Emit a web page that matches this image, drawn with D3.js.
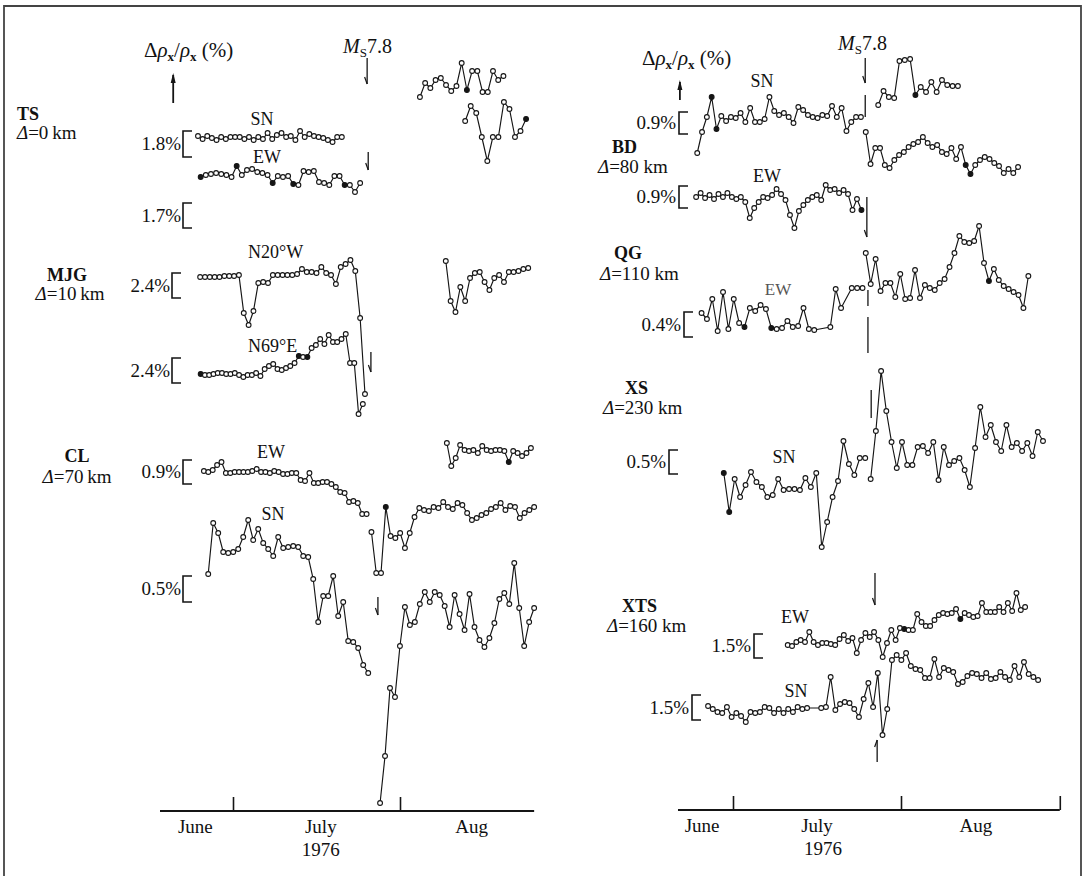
<!DOCTYPE html>
<html><head><meta charset="utf-8">
<script src="https://cdn.jsdelivr.net/npm/d3@7"></script>
<style>
body{margin:0;background:#fff;}
svg{display:block;}
text{font-family:"Liberation Serif","Times New Roman",serif;fill:#111;}
</style></head><body>
<svg id="c" width="1085" height="876"></svg>
<script>
// ---------- DATA (days: June 1 = 1, July 1 = 31, Aug 1 = 62; values in chart units) ----------
const monthLabels = ["June", "July", "Aug"];
const yearLabel = "1976";
const monthTickDays = [31, 62];
const monthLabelDaysL = [24, 47.3, 75.3];
const monthLabelDaysR = [25.3, 46.5, 75.8];
const yearDayL = 47.3, yearDayR = 47.6;

// Tangshan (TS)
const tsSNBefore = [67.5,67.2,67.5,67.3,67.1,67.4,67.2,67.4,67.4,67.4,67.2,67.4,67.1,67.4,67.2,67.8,67.2,67.6,67.8,67.4,67.5,67.1,68.0,67.4,67.7,67.5,67.4,67.3,67.1,66.9,67.4,67.4];
const tsEWBefore = [63.4,63.6,63.7,63.8,63.7,63.6,63.4,64.5,63.6,64.1,64.2,63.9,63.8,63.6,62.8,63.5,63.4,63.5,62.7,62.6,64.0,63.9,64.0,62.9,62.8,62.6,63.5,63.5,62.6,62.6,61.9,62.8];
const tsAfterA = [71.4,72.8,72.3,73.1,73.3,72.6,72.0,72.5,74.8,72.1,74.0,74.0,71.9,71.9,74.0,73.1,73.5];
const tsAfterB = [69.0,70.5,69.8,67.4,65.0,67.4,67.4,70.9,70.2,67.4,68.0,69.2];
// Majiagou (MJG)
const mjgN20W = [53.4,53.4,53.4,53.4,53.4,53.5,53.5,53.5,53.6,49.8,48.6,50.0,52.8,52.9,52.8,53.6,53.6,53.6,53.6,53.6,53.7,54.2,53.9,53.9,53.8,54.4,53.8,53.6,52.7,54.4,54.7,55.1,54.0,49.3,41.7];
const mjgN69E = [43.7,43.6,43.6,43.7,43.8,43.8,43.7,43.7,43.8,43.6,43.4,43.6,43.6,43.8,43.5,44.2,44.5,44.7,44.2,44.1,44.3,44.5,44.8,45.5,45.4,45.4,46.3,46.6,47.2,46.7,47.6,46.9,46.9,47.2,47.7,44.8,44.8,39.7,40.7];
const mjgAfter = [55.0,51.0,49.9,52.4,51.0,53.3,53.8,53.9,52.9,52.1,53.3,53.6,52.9,53.9,53.9,54.0,54.2,54.3];
// Changli (CL)
const clEWBefore = [34.0,33.9,34.1,34.6,34.9,33.8,33.8,33.9,33.9,33.9,33.9,34.0,34.2,33.9,33.9,33.8,34.0,33.9,33.7,33.7,33.8,33.8,33.1,33.0,33.8,32.8,32.8,32.9,32.9,32.7,32.4,31.9,31.8,30.9,31.0,30.8,29.7,29.7];
const clEWAfter = [27.9,23.8,23.8,30.4,27.5,27.3,27.8,26.3,27.8,29.4,30.3,30.1,30.0,30.4,30.3,30.9,30.4,30.2,30.8,30.6,29.8,29.1,29.3,29.6,29.8,30.2,30.4,30.8,30.1,30.5,30.4,29.3,29.8,30.1,30.4];
const clTopAfter = [36.8,34.5,35.3,36.6,36.1,36.0,36.1,35.8,36.5,36.1,36.0,36.1,36.1,36.0,34.9,36.0,35.8,35.5,35.8,36.3];
const clSNBefore = [23.7,28.8,27.8,25.9,25.8,25.9,26.2,27.4,29.1,27.1,28.2,26.8,26.2,25.5,27.4,26.3,26.4,26.5,26.4,25.5,25.4,23.2,18.9,21.5,21.5,23.5,19.5,20.9,17.0,16.9,16.3,14.6,13.8];
const clSNAfter = [0.8,5.5,12.3,11.4,16.5,20.4,18.6,18.9,20.7,21.9,20.9,21.9,21.6,20.5,18.4,21.6,19.7,18.1,21.7,18.4,17.1,16.4,17.3,18.8,21.2,21.8,20.7,24.8,20.3,16.5,18.9,20.3];
// Baodi (BD)
const bdSNBefore = [65.7,67.8,69.3,71.3,68.1,69.4,68.9,69.3,69.2,69.7,68.8,70.2,68.8,68.8,69.1,71.3,69.9,69.5,69.7,69.3,68.7,70.3,70.0,69.5,69.3,69.2,69.5,69.4,70.4,69.3,70.2,67.9,68.8,69.3,69.3];
const bdSNAfter = [70.5,71.9,71.3,71.2,74.9,75.0,75.1,71.5,72.3,71.8,72.8,71.8,73.0,72.5,72.4,72.4];
const bdEWBefore = [61.3,61.7,61.2,61.5,61.1,61.6,61.3,61.7,61.3,61.1,61.3,60.8,59.2,60.2,60.8,61.3,61.2,61.5,62.1,61.6,61.0,59.5,58.2,59.9,60.5,61.0,61.3,61.5,61.0,62.5,62.0,62.1,61.7,62.0,61.6,60.0,61.1,60.0];
const bdEWAfter = [67.8,64.6,66.2,66.2,64.5,64.2,65.0,65.5,65.8,66.3,66.6,66.8,67.3,66.7,66.3,66.5,65.8,65.6,66.2,65.1,66.3,64.5,63.6,64.5,65.0,65.3,65.1,64.7,64.4,63.7,64.1,63.7,64.3];
// Qinggezhuang (QG)
const qgEWBefore = [49.7,49.1,51.1,47.9,51.8,48.1,51.1,48.7,48.3,50.2,49.9,50.5,50.1,48.2,48.1,48.2,48.9,48.3,48.4,50.2,48.1,48.0,null,null,48.3,52.1,50.2,null,52.2,52.2,52.2];
const qgEWAfter = [55.7,52.6,55.1,51.9,52.7,52.7,51.3,53.6,51.1,51.2,54.0,51.2,52.5,52.2,52.0,52.7,53.1,54.3,55.7,57.4,56.8,56.7,56.9,58.4,54.7,52.9,54.1,53.0,52.4,52.1,51.8,51.5,50.2,53.4];
// XS
const xsSNBefore = [33.7,29.8,33.1,31.3,32.5,33.8,32.8,32.3,31.3,31.5,33.1,32.0,32.1,32.1,32.0,33.2,32.3,33.7,26.3,28.8,31.3,32.9,36.9,34.6,33.5,35.2,35.2];
const xsSNAfter = [33.1,37.9,43.9,39.9,36.8,34.2,36.8,34.5,34.5,36.3,36.4,35.7,36.8,33.0,36.3,34.5,34.9,35.2,34.0,32.3,36.2,40.3,37.3,38.5,36.8,35.9,38.5,36.3,36.7,35.9,36.7,35.4,37.8,36.9];
// XTS
const xtsEW = [16.5,16.4,16.8,17.0,16.8,17.8,16.8,16.5,16.7,16.7,16.6,16.5,17.1,17.5,16.9,17.2,15.7,17.0,17.7,17.3,17.8,17.0,15.3,16.7,18.0,17.0,18.2,18.1,18.0,18.0,19.6,18.8,18.4,18.4,19.0,19.5,19.7,19.6,19.7,20.1,19.1,19.7,19.5,19.3,19.4,20.7,19.8,19.8,19.8,20.3,19.8,20.7,19.9,21.7,20.0,20.3];
const xtsSN = [10.4,10.1,9.8,9.7,10.3,9.3,9.7,9.4,8.8,9.8,9.7,9.8,10.3,10.2,9.7,10.1,9.7,10.1,9.8,10.3,10.1,10.2,null,null,10.2,10.3,13.3,10.0,10.6,10.8,10.7,10.1,9.3,11.1,12.7,10.3,13.7,7.5,10.1,15.0,15.5,15.0,15.7,14.4,14.1,14.0,13.2,13.2,15.1,13.3,14.2,14.0,13.8,12.6,12.8,13.4,13.7,13.6,13.2,13.7,13.1,13.2,13.8,13.3,13.0,14.4,13.3,14.8,13.6,13.3,13.0];

// series table: panel, first/last observation day, values, indices drawn as filled dots
const seriesTable = [
  {p:"L", start:24.5, end:51.2, values:tsSNBefore, filled:[]},
  {p:"L", start:25.0, end:54.6, values:tsEWBefore, filled:[0,7,14,18,28]},
  {p:"L", start:65.7, end:81.2, values:tsAfterA, filled:[9]},
  {p:"L", start:74.1, end:85.4, values:tsAfterB, filled:[11]},
  {p:"L", start:24.9, end:55.5, values:mjgN20W, filled:[]},
  {p:"L", start:25.0, end:55.1, values:mjgN69E, filled:[0,23,25]},
  {p:"L", start:70.5, end:85.8, values:mjgAfter, filled:[]},
  {p:"L", start:25.6, end:55.8, values:clEWBefore, filled:[]},
  {p:"L", start:56.7, end:86.9, values:clEWAfter, filled:[3]},
  {p:"L", start:70.7, end:86.3, values:clTopAfter, filled:[14]},
  {p:"L", start:26.4, end:56.1, values:clSNBefore, filled:[]},
  {p:"L", start:58.3, end:86.9, values:clSNAfter, filled:[]},
  {p:"R", start:24.4, end:54.6, values:bdSNBefore, filled:[3,4]},
  {p:"R", start:57.8, end:72.5, values:bdSNAfter, filled:[7]},
  {p:"R", start:24.2, end:54.7, values:bdEWBefore, filled:[37]},
  {p:"R", start:55.5, end:83.6, values:bdEWAfter, filled:[21,22]},
  {p:"R", start:25.2, end:54.9, values:qgEWBefore, filled:[8,13]},
  {p:"R", start:55.5, end:85.5, values:qgEWAfter, filled:[25]},
  {p:"R", start:29.3, end:55.4, values:xsSNBefore, filled:[0,1]},
  {p:"R", start:56.4, end:88.2, values:xsSNAfter, filled:[]},
  {p:"R", start:41.1, end:84.9, values:xtsEW, filled:[27,40]},
  {p:"R", start:26.4, end:87.3, values:xtsSN, filled:[]}
];

// event marks [panel, day, valueFrom, valueTo, kind]
const eventMarks = [
  ["L",55.9,75.3,72.7,"down"],["L",56.1,65.9,64.1,"down"],["L",56.6,45.9,43.9,"down"],["L",57.9,21.4,19.6,"down"],
  ["L",19.9,70.8,73.6,"up"],
  ["R",55.4,75.2,72.7,"down"],["R",55.4,71.5,69.3,"line"],["R",55.7,61.3,57.3,"down"],
  ["R",55.9,52.0,50.4,"line"],["R",55.9,49.3,45.7,"line"],["R",56.5,42.0,39.2,"line"],
  ["R",57.2,23.7,20.5,"down"],["R",57.6,4.8,7.0,"half-up"],["R",21.2,71.0,72.8,"up"]
];

// ---------- LAYOUT ----------
const svg = d3.select("#c");
const ink = "#151515";
const xL = d3.scaleLinear().domain([31, 62]).range([233, 400]);
const xR = d3.scaleLinear().domain([31, 62]).range([733, 901]);
const yL = d3.scaleLinear().domain([0, 80]).range([811, 11]);
const yR = d3.scaleLinear().domain([0, 80]).range([810, 10]);
const sc = {L:{x:xL, y:yL}, R:{x:xR, y:yR}};

// frame (left, top, right edges of the scanned page)
svg.append("path").attr("d","M4,876 V6 H1081 V876")
  .attr("fill","none").attr("stroke","#444").attr("stroke-width",1.8);

// axes
function drawAxis(p, d0, d1, ticks, labelDays, yearDay) {
  const {x, y} = sc[p];
  const y0 = y(0);
  svg.append("line").attr("x1", x(d0)).attr("x2", x(d1)).attr("y1", y0).attr("y2", y0)
    .attr("stroke", ink).attr("stroke-width", 2);
  const g = svg.append("g").attr("transform", `translate(0,${y0})`)
    .call(d3.axisBottom(x).tickValues(ticks).tickSizeInner(-14).tickSizeOuter(0).tickFormat(""));
  g.select(".domain").remove();
  g.selectAll(".tick line").attr("stroke", ink).attr("stroke-width", 1.6);
  svg.selectAll(null).data(monthLabels).enter().append("text")
    .attr("x", (d,i) => x(labelDays[i])).attr("y", y0 + 22)
    .attr("text-anchor","middle").attr("font-size", 19).text(d => d);
  svg.append("text").attr("x", x(yearDay)).attr("y", y0 + 45)
    .attr("text-anchor","middle").attr("font-size", 19).text(yearLabel);
}
drawAxis("L", 17.45, 86.9, monthTickDays, monthLabelDaysL, yearDayL);
drawAxis("R", 20.85, 91.3, monthTickDays.concat([91.3]), monthLabelDaysR, yearDayR);

// series
seriesTable.forEach(s => {
  const {x, y} = sc[s.p];
  const n = s.values.length, step = (s.end - s.start) / (n - 1);
  const pts = s.values.map((v, i) => ({d: s.start + i * step, v, i})).filter(q => q.v !== null);
  const line = d3.line().x(q => x(q.d)).y(q => y(q.v));
  svg.append("path").attr("d", line(pts)).attr("fill","none").attr("stroke", ink).attr("stroke-width", 1.15);
  svg.selectAll(null).data(pts).enter().append("circle")
    .attr("cx", q => x(q.d)).attr("cy", q => y(q.v)).attr("r", 2.4)
    .attr("fill", q => s.filled.includes(q.i) ? ink : "#fff")
    .attr("stroke", ink).attr("stroke-width", 1.1);
});

// event marks
eventMarks.forEach(([p, d, v0, v1, kind]) => {
  const {x, y} = sc[p];
  const X = x(d), Y0 = y(v0), Y1 = y(v1);
  svg.append("line").attr("x1",X).attr("x2",X).attr("y1",Y0).attr("y2",Y1)
    .attr("stroke", ink).attr("stroke-width", kind === "up" ? 1.8 : 1.3);
  if (kind === "down") {
    svg.append("line").attr("x1",X).attr("y1",Y1).attr("x2",X-2.5).attr("y2",Y1-7)
      .attr("stroke", ink).attr("stroke-width", 1.2);
  } else if (kind === "half-up") {
    svg.append("line").attr("x1",X).attr("y1",Y1).attr("x2",X-2.5).attr("y2",Y1+7)
      .attr("stroke", ink).attr("stroke-width", 1.2);
  } else if (kind === "up") {
    svg.append("path").attr("d",`M${X},${Y1-2} L${X-2.5},${Y1+8} L${X+2.5},${Y1+8} Z`).attr("fill", ink);
  }
});

// text helpers
function txt(x, y, s, opt = {}) {
  const t = svg.append("text").attr("x", x).attr("y", y).attr("font-size", opt.size || 18)
    .attr("text-anchor", opt.anchor || "start").text(s);
  if (opt.bold) t.attr("font-weight", "bold");
  if (opt.fill) t.style("fill", opt.fill);
  return t;
}
function deltaLabel(x, y, km, anchor, sep) {
  const t = svg.append("text").attr("x", x).attr("y", y).attr("font-size", 19).attr("text-anchor", anchor || "start");
  t.append("tspan").attr("font-style","italic").text("Δ");
  t.append("tspan").text("=" + km + (sep === undefined ? " " : sep) + "km");
}
function rhoLabel(x, y) {
  const t = svg.append("text").attr("x", x).attr("y", y).attr("font-size", 21);
  t.append("tspan").text("Δ");
  t.append("tspan").attr("font-style","italic").text("ρ");
  t.append("tspan").attr("font-size", 13).attr("dy", 4).attr("font-weight","bold").text("x");
  t.append("tspan").attr("dy", -4).text("/");
  t.append("tspan").attr("font-style","italic").text("ρ");
  t.append("tspan").attr("font-size", 13).attr("dy", 4).attr("font-weight","bold").text("x");
  t.append("tspan").attr("dy", -4).text(" (%)");
}
function msLabel(x, y) {
  const t = svg.append("text").attr("x", x).attr("y", y).attr("font-size", 20);
  t.append("tspan").attr("font-style","italic").text("M");
  t.append("tspan").attr("font-size", 13).attr("dy", 4).text("S");
  t.append("tspan").attr("dy", -4).text("7.8");
}
function bracket(xv, y0, y1, label, xText) {
  svg.append("path").attr("d", `M${xv+9},${y0} H${xv} V${y1} H${xv+9}`)
    .attr("fill","none").attr("stroke", ink).attr("stroke-width", 1.6);
  txt(xText, (y0 + y1) / 2 + 6, label, {anchor:"end", size:19});
}

// left panel text
rhoLabel(144, 57);
msLabel(343, 53);
txt(17, 120, "TS", {bold:true});
deltaLabel(17, 139, "0", "start", "\u2009");
bracket(183, 131, 157, "1.8%", 181);
bracket(183, 203, 228, "1.7%", 181);
txt(262, 125, "SN", {anchor:"middle"});
txt(267, 163, "EW", {anchor:"middle"});
txt(67, 281, "MJG", {bold:true, anchor:"middle"});
deltaLabel(70, 300, "10", "middle", "\u2009");
bracket(172, 273, 298, "2.4%", 170);
bracket(172, 358, 383, "2.4%", 170);
txt(248, 258, "N20°W");
txt(248, 352, "N69°E");
txt(77, 462, "CL", {bold:true, anchor:"middle"});
deltaLabel(77, 483, "70", "middle", "\u2009");
bracket(183, 460, 484, "0.9%", 181);
bracket(183, 576, 602, "0.5%", 181);
txt(271, 458, "EW", {anchor:"middle"});
txt(273, 520, "SN", {anchor:"middle"});

// right panel text
rhoLabel(642, 65);
msLabel(838, 50);
txt(612, 153, "BD", {bold:true});
deltaLabel(598, 173, "80");
bracket(679, 112, 134, "0.9%", 676);
bracket(679, 186, 208, "0.9%", 676);
txt(762, 87, "SN", {anchor:"middle"});
txt(767, 182, "EW", {anchor:"middle"});
txt(614, 259, "QG", {bold:true});
deltaLabel(600, 280, "110");
bracket(684, 312, 337, "0.4%", 681);
txt(778, 295, "EW", {anchor:"middle", size:17, fill:"#555"});
txt(625, 394, "XS", {bold:true});
deltaLabel(603, 414, "230");
bracket(669, 450, 474, "0.5%", 666);
txt(784, 463, "SN", {anchor:"middle"});
txt(622, 612, "XTS", {bold:true});
deltaLabel(607, 632, "160");
txt(795, 623, "EW", {anchor:"middle"});
bracket(754, 634, 658, "1.5%", 751);
txt(796, 697, "SN", {anchor:"middle"});
bracket(692, 695, 720, "1.5%", 689);
</script></body></html>
